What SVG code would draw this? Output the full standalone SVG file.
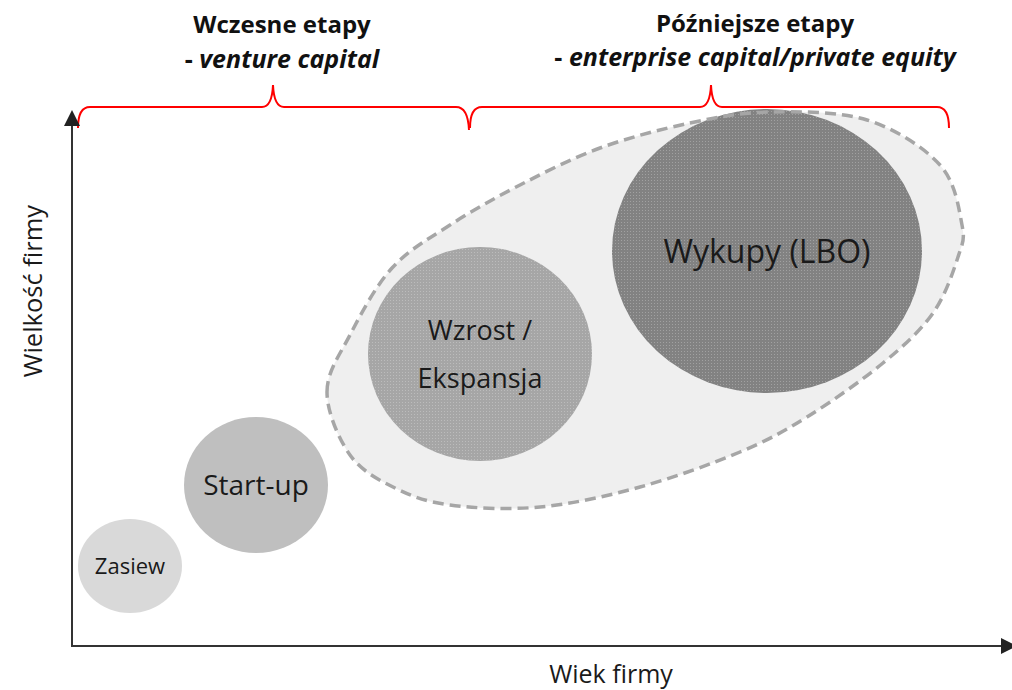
<svg xmlns="http://www.w3.org/2000/svg" width="1012" height="690" viewBox="0 0 1012 690">
<defs>
<style>
.hdr{font-family:"Open Sans","Noto Sans","Liberation Sans",sans-serif;font-weight:bold;fill:#111;text-anchor:middle}
.lbl{font-family:"Open Sans","Noto Sans","Liberation Sans",sans-serif;fill:#1a1a1a;text-anchor:middle}
.brace{fill:none;stroke:#ff0000;stroke-width:2}
.axis{stroke:#333;stroke-width:2;fill:none}
</style>
<marker id="arr" markerWidth="16" markerHeight="16" refX="14" refY="8" orient="auto" markerUnits="userSpaceOnUse" viewBox="0 0 16 16">
<path d="M0,0 L16,8 L0,16 Z" fill="#222"/>
</marker>
<pattern id="dots" width="3" height="3" patternUnits="userSpaceOnUse">
<rect width="1" height="1" fill="#fff" fill-opacity="0.25"/>
</pattern>
<path id="blob" d="M327,392 C327,372 339.2,355.7 350,335 C360.8,314.3 375.3,286.3 392,268 C408.7,249.7 428.7,238.8 450,225 C471.3,211.2 495,197.8 520,185 C545,172.2 571.7,158.3 600,148 C628.3,137.7 661.7,129 690,123 C718.3,117 740.5,112.5 770,112 C799.5,111.5 838.7,111.2 867,120 C895.3,128.8 924.2,147.5 940,165 C955.8,182.5 959,209.7 962,225 C965,240.3 962.8,242.3 958,257 C953.2,271.7 945.5,295.3 933,313 C920.5,330.7 904,345.7 883,363 C862,380.3 830.8,402.2 807,417 C783.2,431.8 767.8,440.3 740,452 C712.2,463.7 673.3,477.8 640,487 C606.7,496.2 571.7,504 540,507 C508.3,510 474.2,508.2 450,505 C425.8,501.8 411.7,496.3 395,488 C378.3,479.7 361.3,471 350,455 C338.7,439 327,412 327,392 Z"/>
</defs>
<rect width="1012" height="690" fill="#fff"/>
<g id="header-early">
<text class="hdr" x="282" y="33" font-size="24">Wczesne etapy</text>
<text class="hdr" x="282" y="68" font-size="25">- <tspan font-style="italic">venture capital</tspan></text>
</g>
<g id="header-late">
<text class="hdr" x="755" y="32" font-size="24">Późniejsze etapy</text>
<text class="hdr" x="755" y="66" font-size="25">- <tspan font-style="italic">enterprise capital/private equity</tspan></text>
</g>
<g id="braces">
<path class="brace" d="M78,128 Q78,107 90,107 L262,107 Q272,107 273,85 Q274,107 284,107 L456,107 Q468,107 469,130"/>
<path class="brace" d="M470,128 Q470,107 482,107 L700,107 Q710,107 711,85 Q712,107 722,107 L937,107 Q949,107 949,128"/>
</g>
<g id="connectors">
<line class="axis" x1="72" y1="647" x2="72" y2="112" marker-end="url(#arr)"/>
<line class="axis" x1="71" y1="646" x2="1015" y2="646" marker-end="url(#arr)"/>
</g>
<g id="axis-labels">
<text class="lbl" x="611" y="683" font-size="25">Wiek firmy</text>
<text class="lbl" x="0" y="0" font-size="25.5" transform="translate(42,291) rotate(-90)">Wielkość firmy</text>
</g>
<g id="later-stages-area" fill="#efefef">
<use href="#blob"/>
</g>
<g id="node-zasiew">
<ellipse cx="130" cy="566" rx="52" ry="47" fill="#d9d9d9"/>
<text class="lbl" x="130" y="574" font-size="22">Zasiew</text>
</g>
<g id="node-startup">
<ellipse cx="256" cy="485" rx="72" ry="68" fill="#bfbfbf"/>
<text class="lbl" x="256" y="495" font-size="28">Start-up</text>
</g>
<g id="node-wzrost">
<ellipse cx="480" cy="354" rx="112" ry="107" fill="#a6a6a6"/>
<ellipse cx="480" cy="354" rx="112" ry="107" fill="url(#dots)"/>
<text class="lbl" x="480" y="340" font-size="27" fill="#2a2a2a">Wzrost /</text>
<text class="lbl" x="480" y="388" font-size="27" fill="#2a2a2a">Ekspansja</text>
</g>
<g id="node-wykupy">
<ellipse cx="767" cy="251" rx="155" ry="142" fill="#828282"/>
<ellipse cx="767" cy="251" rx="155" ry="142" fill="url(#dots)"/>
<text class="lbl" x="767" y="263" font-size="32" fill="#222">Wykupy (LBO)</text>
</g>
<g id="later-stages-outline" fill="none" stroke="#a6a6a6" stroke-width="3.5" stroke-dasharray="11,6">
<use href="#blob"/>
</g>
</svg>
